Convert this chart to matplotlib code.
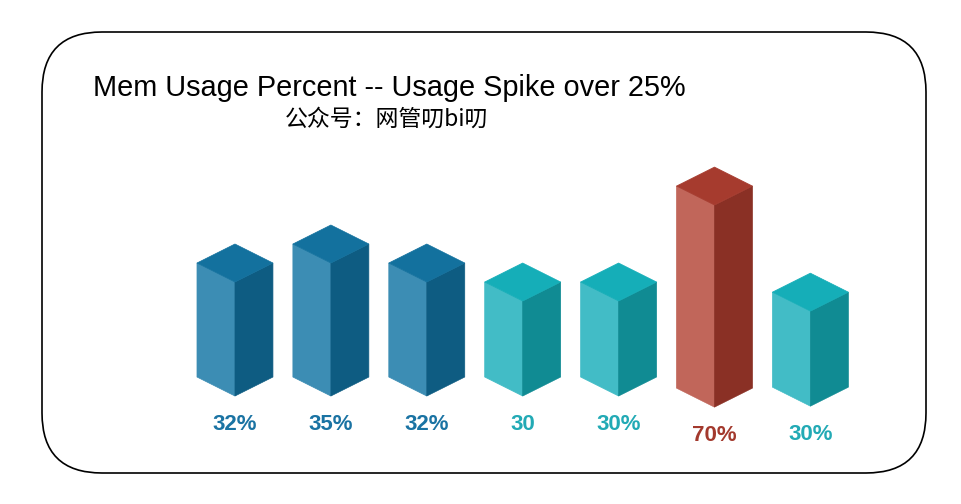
import numpy as np
import matplotlib.pyplot as plt
from matplotlib.patches import Polygon, FancyBboxPatch

# data
labels = ['32%', '35%', '32%', '30', '30%', '70%', '30%']
values = [32, 35, 32, 30, 30, 70, 30]
# drawn height of each block (the infographic is not to scale, 30% block = 30)
drawn_height = [36, 42, 36, 30, 30, 63.8, 30]
groups = ['blue', 'blue', 'blue', 'teal', 'teal', 'red', 'teal']

# styling
drop = [0, 0, 0, 0, 0, -3.5, -3.2]   # last two blocks sit a bit lower
palette = {
    'blue': dict(left='#3c8db4', right='#0e5c82', top='#13719e', text='#1a73a3'),
    'teal': dict(left='#42bcc6', right='#108b93', top='#15aeb8', text='#22aab5'),
    'red':  dict(left='#c1665a', right='#8a3025', top='#a63b2e', text='#a3392d'),
}
half_w = 0.396   # half width of block in bar units
depth = 6.0      # isometric rise in value units

fig = plt.figure(figsize=(9.62, 5.04), dpi=100)

# frame around everything (pixel units)
frame_ax = fig.add_axes([0, 0, 1, 1])
frame_ax.set_xlim(0, 962)
frame_ax.set_ylim(504, 0)
frame_ax.axis('off')
frame_ax.add_patch(FancyBboxPatch((42, 32), 884, 441,
                                  boxstyle='round,pad=0,rounding_size=60',
                                  fc='white', ec='black', lw=1.2))

ax = fig.add_axes([0, 0, 1, 1])
ax.set_xlim(-2.450, 7.581)
ax.set_ylim(-40.1, 119.05)
ax.axis('off')
ax.patch.set_alpha(0)

for i in range(len(values)):
    x = i
    h = drawn_height[i]
    b = drop[i]
    c = palette[groups[i]]
    left = [(x - half_w, b), (x, b - depth), (x, b - depth + h), (x - half_w, b + h)]
    right = [(x, b - depth), (x + half_w, b), (x + half_w, b + h), (x, b - depth + h)]
    top = [(x - half_w, b + h), (x, b + h - depth), (x + half_w, b + h), (x, b + h + depth)]
    ax.add_patch(Polygon(left, closed=True, fc=c['left'], ec=c['left'], lw=0.5))
    ax.add_patch(Polygon(right, closed=True, fc=c['right'], ec=c['right'], lw=0.5))
    ax.add_patch(Polygon(top, closed=True, fc=c['top'], ec=c['top'], lw=0.5))
    ax.text(x, b - 15.0, labels[i], ha='center', va='center', color=c['text'],
            fontsize=16, fontweight='bold', family='Liberation Sans')

fig.text(93 / 962, 1 - 96 / 504, 'Mem Usage Percent -- Usage Spike over 25%',
         ha='left', va='baseline', fontsize=20.8, color='black', family='Liberation Sans')
fig.text(285 / 962, 1 - 119 / 504, '公众号：网管叨bi叨',
         ha='left', va='center', fontsize=16.5, color='black',
         family=['Noto Sans CJK SC', 'DejaVu Sans'])

fig.savefig('out.png', dpi=100)
